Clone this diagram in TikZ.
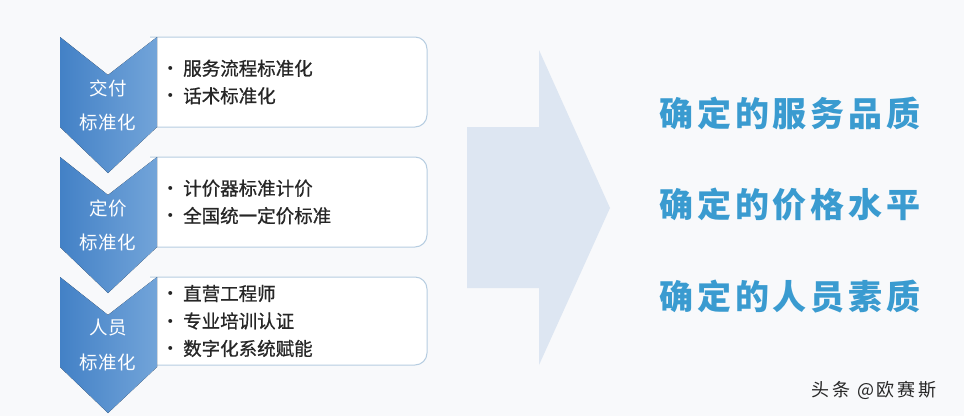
\documentclass[tikz,border=0pt]{standalone}
\usepackage{fontspec}
\setmainfont{Noto Sans CJK SC}
\usetikzlibrary{positioning}

\definecolor{chevdark}{HTML}{4381C6}
\definecolor{chevlight}{HTML}{72A4D9}
\definecolor{boxline}{HTML}{B6CDE1}
\definecolor{arrowfill}{HTML}{DDE6F2}
\definecolor{goalblue}{HTML}{3A9BD0}
\definecolor{paper}{HTML}{F8F9FB}

\newcommand{\dotmark}{{\fontspec{Noto Sans CJK SC}•}\hspace{3.5pt}}

\tikzset{
  chevron/.style={left color=chevdark, right color=chevlight, draw=none},
  itembox/.style={draw=boxline, fill=white, line width=1pt},
  steplabel/.style={text=white, inner sep=0pt,
                    font=\fontsize{18.5}{20}\selectfont\addfontfeatures{LetterSpace=4}},
  items/.style={anchor=west, align=left, inner sep=0pt, text=black!85,
                font=\fontsize{18.5}{27.5}\selectfont\addfontfeatures{FakeBold=0.8}},
  goal/.style={text=goalblue, inner sep=0pt,
               font=\fontsize{34}{36}\selectfont\bfseries\addfontfeatures{LetterSpace=11}},
}

\begin{document}
\begin{tikzpicture}[x=1pt, y=-1pt]
    % Background
    \fill[paper] (0,0) rectangle (964,416);
    \useasboundingbox (0,0) rectangle (964,416);

    % Boxes (left side hides under the chevrons)
    \foreach \t/\h in {37/90, 157/90, 277/88} {
        \draw[itembox] (150,\t) [rounded corners=12pt] -- (427,\t) -- (427,\t+\h)
            [sharp corners] -- (150,\t+\h);
    }

    % Chevrons
    \foreach \t/\top in {37/交付, 157/定价, 277/人员} {
        \fill[chevron] (60,\t) -- (108,\t+38) -- (157,\t) -- (157,\t+90)
            -- (108,\t+136) -- (60,\t+90) -- cycle;
        \node[steplabel] (top\t) at (108,\t+51) {\top};
        \node[steplabel] (std\t) at (108,\t+85) {标准化};
    }

    % Box texts
    \node[items] (delivery) at (161,82) {\dotmark 服务流程标准化\\\dotmark 话术标准化};
    \node[items] (pricing) at (161,202) {\dotmark 计价器标准计价\\\dotmark 全国统一定价标准};
    \node[items] (staff) at (161,321) {\dotmark 直营工程师\\\dotmark 专业培训认证\\\dotmark 数字化系统赋能};

    % Big arrow
    \fill[arrowfill] (467,127) -- (539,127) -- (539,50) -- (610,208)
        -- (539,365) -- (539,288) -- (467,288) -- cycle;

    % Results
    \node[goal] (quality) at (790,113) {确定的服务品质};
    \node[goal] (price) at (790,205) {确定的价格水平};
    \node[goal] (people) at (790,297) {确定的人员素质};

    % Watermark
    \node[inner sep=0pt, text=black!85, font=\fontsize{18}{20}\selectfont\addfontfeatures{LetterSpace=15}]
        (mark) at (874,390) {头条 @欧赛斯};
\end{tikzpicture}
\end{document}
